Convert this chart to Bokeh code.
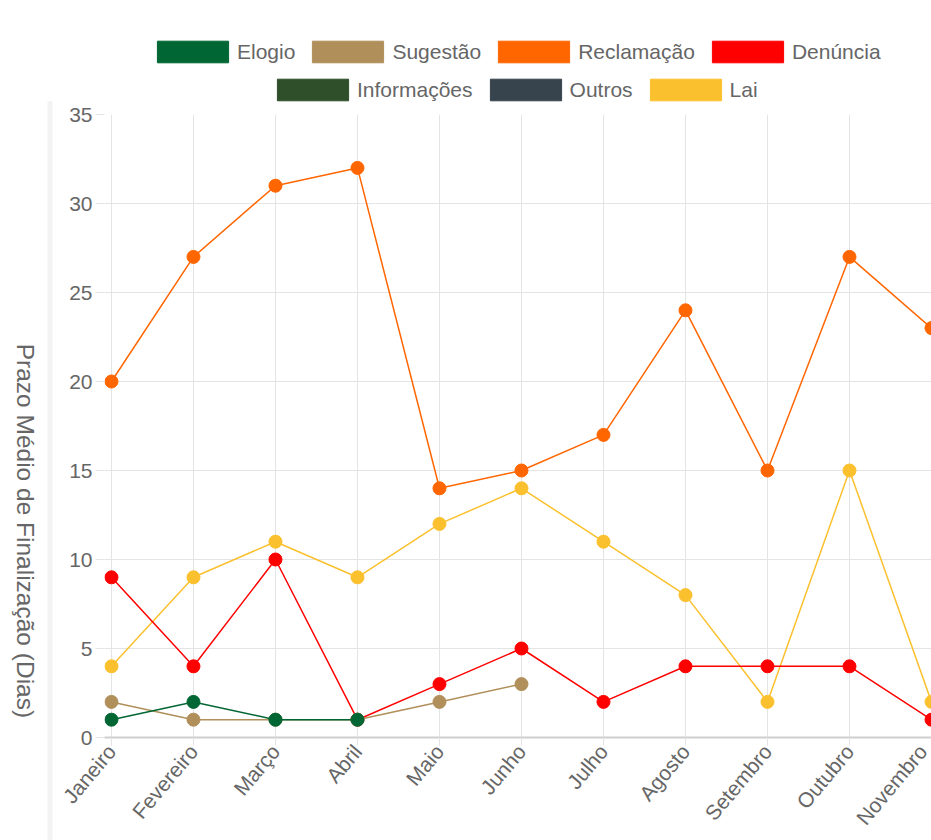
import math
from bokeh.plotting import figure
from bokeh.layouts import column, row
from bokeh.models import Range1d, FixedTicker, Legend, LegendItem
from bokeh.core.properties import value
from bokeh.embed import file_html
from bokeh.resources import INLINE

nan = float("nan")

months = ["Janeiro", "Fevereiro", "Março", "Abril", "Maio", "Junho",
          "Julho", "Agosto", "Setembro", "Outubro", "Novembro"]

elogio = [1, 2, 1, 1, nan, nan, nan, nan, nan, nan, nan]
sugestao = [2, 1, 1, 1, 2, 3, nan, nan, nan, nan, nan]
reclamacao = [20, 27, 31, 32, 14, 15, 17, 24, 15, 27, 23]
denuncia = [9, 4, 10, 1, 3, 5, 2, 4, 4, 4, 1]
informacoes = [nan, nan, nan, nan, nan, nan, nan, nan, nan, nan, nan]
outros = [nan, nan, nan, nan, nan, nan, nan, nan, nan, nan, nan]
lai = [4, 9, 11, 9, 12, 14, 11, 8, 2, 15, 2]

names = ["Elogio", "Sugestão", "Reclamação", "Denúncia", "Informações", "Outros", "Lai"]
series = [elogio, sugestao, reclamacao, denuncia, informacoes, outros, lai]
colors = ["#006633", "#b08f5a", "#ff6600", "#ff0000", "#2e4f2a", "#37444e", "#fbc02d"]

y_ticks = [0, 5, 10, 15, 20, 25, 30, 35]
y_title = "Prazo Médio de Finalização (Dias)"

FONT = "Liberation Sans"
GRAY = "#666666"
GRID = "#e4e4e4"

xs = list(range(len(months)))

TITLE_W = 54
MAIN_W = 931 - TITLE_W

# ---------------- y-axis title strip ----------------
tf = figure(width=TITLE_W, height=840, x_range=Range1d(0, TITLE_W), y_range=Range1d(0, 35),
            x_axis_type=None, y_axis_type=None,
            output_backend="svg", toolbar_location=None, min_border=0)
tf.outline_line_color = None
tf.xgrid.visible = False
tf.ygrid.visible = False
# faint page container border at the left
tf.quad(left=[47], right=[52], bottom=[0], top=[30.8],
        fill_color="#f3f3f3", line_color=None)
tf.text(x=[25], y=[12.9], text=[y_title], angle=-math.pi / 2,
        text_align="center", text_baseline="middle",
        text_font=value(FONT), text_font_size="24.5px", text_color=GRAY)

# ---------------- legend strip ----------------
lf = figure(width=MAIN_W, height=103, x_range=Range1d(0, 1), y_range=Range1d(0, 1),
            x_axis_type=None, y_axis_type=None,
            output_backend="svg", toolbar_location=None, min_border=0)
lf.outline_line_color = None
lf.xgrid.visible = False
lf.ygrid.visible = False

swatches = {}
for name, col in zip(names, colors):
    swatches[name] = lf.quad(left=[nan], right=[nan], top=[nan], bottom=[nan],
                             fill_color=col, line_color=col)

def make_legend(sub, loc):
    return Legend(items=[LegendItem(label=n, renderers=[swatches[n]]) for n in sub],
                  orientation="horizontal", location=loc,
                  glyph_width=89, glyph_height=27, label_height=27,
                  label_standoff=0, spacing=8, padding=0, margin=0,
                  border_line_color=None, background_fill_alpha=0,
                  label_text_font=FONT, label_text_font_size="21px",
                  label_text_color=GRAY)

lf.add_layout(make_legend(names[:4], (44, 38)), "center")
lf.add_layout(make_legend(names[4:], (164, 0)), "center")

# ---------------- main chart ----------------
p = figure(width=MAIN_W, height=737,
           x_range=Range1d(-0.085, len(months) - 1),
           y_range=Range1d(0, 35),
           output_backend="svg", toolbar_location=None,
           min_border_left=104 - TITLE_W, min_border_right=0,
           min_border_bottom=103, min_border_top=11)
p.outline_line_color = None

p.xgrid.ticker = FixedTicker(ticks=xs)
p.ygrid.ticker = FixedTicker(ticks=y_ticks)
p.xgrid.grid_line_color = GRID
p.ygrid.grid_line_color = GRID

p.xaxis.ticker = FixedTicker(ticks=xs)
p.xaxis.major_label_overrides = {i: m for i, m in enumerate(months)}
p.xaxis.major_label_orientation = math.radians(50)
p.xaxis.axis_line_color = "#cfcfcf"
p.xaxis.axis_line_width = 2
p.xaxis.major_tick_in = 0
p.xaxis.major_tick_out = 8
p.xaxis.major_tick_line_color = GRID
p.xaxis.minor_tick_line_color = None
p.xaxis.major_label_text_font = FONT
p.xaxis.major_label_text_font_size = "21px"
p.xaxis.major_label_text_color = GRAY
p.xaxis.major_label_standoff = 2

p.yaxis.ticker = FixedTicker(ticks=y_ticks)
p.yaxis.axis_line_color = None
p.yaxis.major_tick_in = 0
p.yaxis.major_tick_out = 9
p.yaxis.major_tick_line_color = GRID
p.yaxis.minor_tick_line_color = None
p.yaxis.major_label_text_font = FONT
p.yaxis.major_label_text_font_size = "21px"
p.yaxis.major_label_text_color = GRAY
p.yaxis.major_label_standoff = 3

for name, vals, col in reversed(list(zip(names, series, colors))):
    p.line(xs, vals, line_color=col, line_width=1.5)
    p.scatter(xs, vals, size=13, fill_color=col, line_color=col)

layout = row(tf, column(lf, p, spacing=0), spacing=0)
open("out.html", "w").write(file_html(layout, INLINE))
